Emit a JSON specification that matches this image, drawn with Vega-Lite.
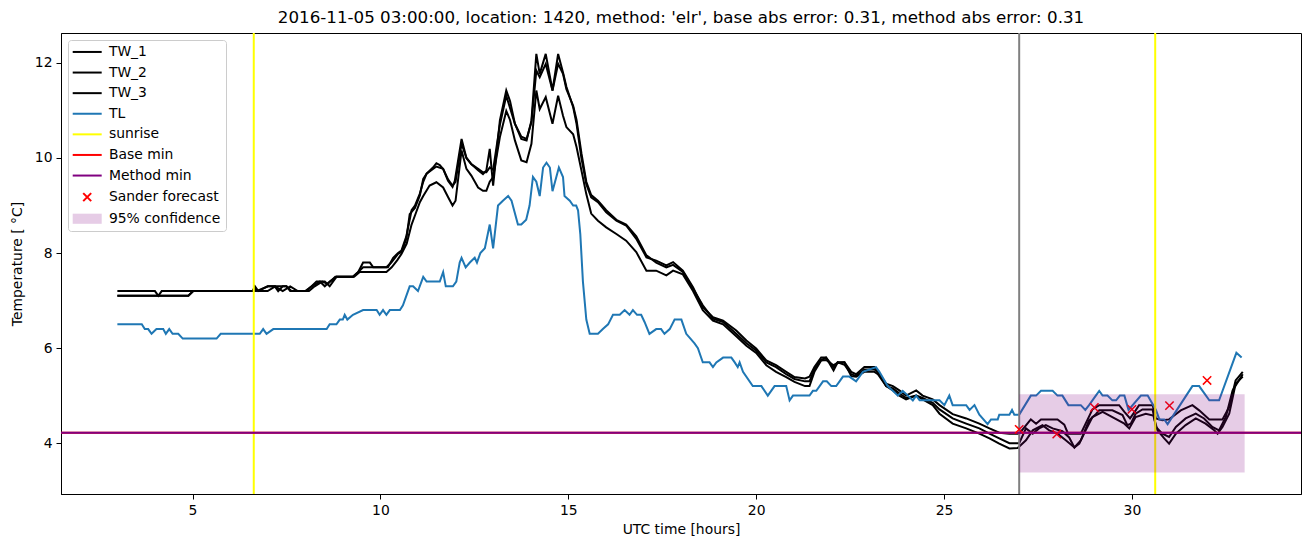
{
"$schema": "https://vega.github.io/schema/vega-lite/v6.json",
"autosize": "none",
"width": 1240,
"height": 461,
"padding": {"left": 61, "top": 33, "right": 9, "bottom": 53},
"background": "white",
"title": {"text": "2016-11-05 03:00:00, location: 1420, method: 'elr', base abs error: 0.31, method abs error: 0.31", "font": "DejaVu Sans", "fontSize": 16.7, "fontWeight": "normal", "color": "black", "anchor": "middle", "offset": 5},
"datasets": {
"lines": [
{"k":"TW_1","t":3,"v":7.2},{"k":"TW_1","t":4.0,"v":7.2},{"k":"TW_1","t":4.09,"v":7.1},{"k":"TW_1","t":4.18,"v":7.2},{"k":"TW_1","t":6.6,"v":7.2},{"k":"TW_1","t":6.66,"v":7.3},{"k":"TW_1","t":6.75,"v":7.2},{"k":"TW_1","t":7.0,"v":7.3},{"k":"TW_1","t":7.5,"v":7.3},{"k":"TW_1","t":7.6,"v":7.2},{"k":"TW_1","t":8.0,"v":7.2},{"k":"TW_1","t":8.17,"v":7.3},{"k":"TW_1","t":8.39,"v":7.4},{"k":"TW_1","t":8.52,"v":7.3},{"k":"TW_1","t":8.65,"v":7.4},{"k":"TW_1","t":8.83,"v":7.5},{"k":"TW_1","t":9.27,"v":7.5},{"k":"TW_1","t":9.41,"v":7.6},{"k":"TW_1","t":9.54,"v":7.8},{"k":"TW_1","t":9.72,"v":7.8},{"k":"TW_1","t":9.81,"v":7.7},{"k":"TW_1","t":10.2,"v":7.7},{"k":"TW_1","t":10.34,"v":7.9},{"k":"TW_1","t":10.47,"v":8.0},{"k":"TW_1","t":10.56,"v":8.05},{"k":"TW_1","t":10.69,"v":8.35},{"k":"TW_1","t":10.83,"v":8.9},{"k":"TW_1","t":10.92,"v":9.0},{"k":"TW_1","t":11.05,"v":9.25},{"k":"TW_1","t":11.14,"v":9.5},{"k":"TW_1","t":11.23,"v":9.67},{"k":"TW_1","t":11.4,"v":9.8},{"k":"TW_1","t":11.49,"v":9.89},{"k":"TW_1","t":11.58,"v":9.85},{"k":"TW_1","t":11.67,"v":9.77},{"k":"TW_1","t":11.8,"v":9.52},{"k":"TW_1","t":11.92,"v":9.39},{"k":"TW_1","t":11.98,"v":9.52},{"k":"TW_1","t":12.16,"v":10.4},{"k":"TW_1","t":12.29,"v":10.0},{"k":"TW_1","t":12.42,"v":9.87},{"k":"TW_1","t":12.6,"v":9.74},{"k":"TW_1","t":12.73,"v":9.66},{"k":"TW_1","t":12.82,"v":9.74},{"k":"TW_1","t":12.91,"v":10.19},{"k":"TW_1","t":13.0,"v":9.42},{"k":"TW_1","t":13.18,"v":10.79},{"k":"TW_1","t":13.35,"v":11.42},{"k":"TW_1","t":13.45,"v":11.2},{"k":"TW_1","t":13.58,"v":10.72},{"k":"TW_1","t":13.75,"v":10.4},{"k":"TW_1","t":13.89,"v":10.37},{"k":"TW_1","t":14.02,"v":10.79},{"k":"TW_1","t":14.15,"v":12.19},{"k":"TW_1","t":14.24,"v":11.77},{"k":"TW_1","t":14.4,"v":12.19},{"k":"TW_1","t":14.58,"v":11.42},{"k":"TW_1","t":14.73,"v":12.19},{"k":"TW_1","t":14.86,"v":11.8},{"k":"TW_1","t":14.95,"v":11.5},{"k":"TW_1","t":15.13,"v":11.07},{"k":"TW_1","t":15.22,"v":10.72},{"k":"TW_1","t":15.35,"v":10.0},{"k":"TW_1","t":15.48,"v":9.45},{"k":"TW_1","t":15.61,"v":9.17},{"k":"TW_1","t":15.79,"v":9.07},{"k":"TW_1","t":16.01,"v":8.86},{"k":"TW_1","t":16.28,"v":8.68},{"k":"TW_1","t":16.54,"v":8.58},{"k":"TW_1","t":16.81,"v":8.3},{"k":"TW_1","t":17.08,"v":7.91},{"k":"TW_1","t":17.34,"v":7.84},{"k":"TW_1","t":17.61,"v":7.74},{"k":"TW_1","t":17.79,"v":7.81},{"k":"TW_1","t":18.05,"v":7.63},{"k":"TW_1","t":18.32,"v":7.28},{"k":"TW_1","t":18.58,"v":6.86},{"k":"TW_1","t":18.85,"v":6.65},{"k":"TW_1","t":19.12,"v":6.58},{"k":"TW_1","t":19.47,"v":6.37},{"k":"TW_1","t":19.74,"v":6.16},{"k":"TW_1","t":20.0,"v":5.99},{"k":"TW_1","t":20.27,"v":5.74},{"k":"TW_1","t":20.53,"v":5.64},{"k":"TW_1","t":20.8,"v":5.5},{"k":"TW_1","t":21.02,"v":5.39},{"k":"TW_1","t":21.3,"v":5.36},{"k":"TW_1","t":21.42,"v":5.4},{"k":"TW_1","t":21.55,"v":5.6},{"k":"TW_1","t":21.73,"v":5.8},{"k":"TW_1","t":21.86,"v":5.8},{"k":"TW_1","t":22.06,"v":5.6},{"k":"TW_1","t":22.17,"v":5.7},{"k":"TW_1","t":22.35,"v":5.7},{"k":"TW_1","t":22.53,"v":5.5},{"k":"TW_1","t":22.66,"v":5.45},{"k":"TW_1","t":22.88,"v":5.6},{"k":"TW_1","t":23.15,"v":5.6},{"k":"TW_1","t":23.24,"v":5.5},{"k":"TW_1","t":23.46,"v":5.25},{"k":"TW_1","t":23.64,"v":5.2},{"k":"TW_1","t":23.81,"v":5.11},{"k":"TW_1","t":23.99,"v":5.0},{"k":"TW_1","t":24.26,"v":5.11},{"k":"TW_1","t":24.43,"v":5.0},{"k":"TW_1","t":24.7,"v":4.92},{"k":"TW_1","t":24.88,"v":4.8},{"k":"TW_1","t":25.23,"v":4.61},{"k":"TW_1","t":25.59,"v":4.52},{"k":"TW_1","t":25.94,"v":4.41},{"k":"TW_1","t":26.21,"v":4.31},{"k":"TW_1","t":26.47,"v":4.22},{"k":"TW_1","t":26.74,"v":4.2},{"k":"TW_1","t":27.0,"v":4.2},{"k":"TW_1","t":27.31,"v":4.5},{"k":"TW_1","t":27.45,"v":4.41},{"k":"TW_1","t":27.58,"v":4.5},{"k":"TW_1","t":28.02,"v":4.5},{"k":"TW_1","t":28.2,"v":4.39},{"k":"TW_1","t":28.3,"v":4.2},{"k":"TW_1","t":28.64,"v":4.2},{"k":"TW_1","t":28.95,"v":4.71},{"k":"TW_1","t":29.13,"v":4.8},{"k":"TW_1","t":29.66,"v":4.8},{"k":"TW_1","t":29.8,"v":4.66},{"k":"TW_1","t":29.95,"v":4.52},{"k":"TW_1","t":30.1,"v":4.69},{"k":"TW_1","t":30.19,"v":4.8},{"k":"TW_1","t":30.55,"v":4.8},{"k":"TW_1","t":30.64,"v":4.52},{"k":"TW_1","t":30.81,"v":4.48},{"k":"TW_1","t":30.99,"v":4.5},{"k":"TW_1","t":31.3,"v":4.69},{"k":"TW_1","t":31.61,"v":4.8},{"k":"TW_1","t":31.79,"v":4.69},{"k":"TW_1","t":32.06,"v":4.5},{"k":"TW_1","t":32.41,"v":4.5},{"k":"TW_1","t":32.59,"v":4.76},{"k":"TW_1","t":32.76,"v":5.32},{"k":"TW_1","t":32.95,"v":5.5},
{"k":"TW_2","t":3,"v":7.1},{"k":"TW_2","t":4.89,"v":7.1},{"k":"TW_2","t":5.02,"v":7.2},{"k":"TW_2","t":6.7,"v":7.2},{"k":"TW_2","t":7.01,"v":7.3},{"k":"TW_2","t":7.19,"v":7.3},{"k":"TW_2","t":7.28,"v":7.2},{"k":"TW_2","t":7.4,"v":7.3},{"k":"TW_2","t":7.5,"v":7.3},{"k":"TW_2","t":7.63,"v":7.2},{"k":"TW_2","t":8.03,"v":7.2},{"k":"TW_2","t":8.17,"v":7.3},{"k":"TW_2","t":8.3,"v":7.4},{"k":"TW_2","t":8.52,"v":7.4},{"k":"TW_2","t":8.65,"v":7.3},{"k":"TW_2","t":8.83,"v":7.5},{"k":"TW_2","t":9.27,"v":7.5},{"k":"TW_2","t":9.41,"v":7.6},{"k":"TW_2","t":9.54,"v":7.7},{"k":"TW_2","t":10.16,"v":7.7},{"k":"TW_2","t":10.29,"v":7.8},{"k":"TW_2","t":10.47,"v":7.98},{"k":"TW_2","t":10.56,"v":8.02},{"k":"TW_2","t":10.69,"v":8.3},{"k":"TW_2","t":10.78,"v":8.82},{"k":"TW_2","t":10.92,"v":8.95},{"k":"TW_2","t":11.05,"v":9.21},{"k":"TW_2","t":11.14,"v":9.56},{"k":"TW_2","t":11.23,"v":9.67},{"k":"TW_2","t":11.49,"v":9.82},{"k":"TW_2","t":11.67,"v":9.77},{"k":"TW_2","t":11.8,"v":9.55},{"k":"TW_2","t":11.92,"v":9.42},{"k":"TW_2","t":12.0,"v":9.5},{"k":"TW_2","t":12.16,"v":10.3},{"k":"TW_2","t":12.29,"v":10.0},{"k":"TW_2","t":12.42,"v":9.87},{"k":"TW_2","t":12.6,"v":9.77},{"k":"TW_2","t":12.73,"v":9.7},{"k":"TW_2","t":12.82,"v":9.7},{"k":"TW_2","t":12.91,"v":9.8},{"k":"TW_2","t":13.0,"v":9.75},{"k":"TW_2","t":13.18,"v":10.7},{"k":"TW_2","t":13.35,"v":11.31},{"k":"TW_2","t":13.58,"v":10.72},{"k":"TW_2","t":13.75,"v":10.45},{"k":"TW_2","t":13.89,"v":10.4},{"k":"TW_2","t":14.02,"v":10.75},{"k":"TW_2","t":14.15,"v":11.84},{"k":"TW_2","t":14.24,"v":11.7},{"k":"TW_2","t":14.4,"v":11.98},{"k":"TW_2","t":14.58,"v":11.42},{"k":"TW_2","t":14.73,"v":11.98},{"k":"TW_2","t":14.86,"v":11.77},{"k":"TW_2","t":14.95,"v":11.45},{"k":"TW_2","t":15.13,"v":11.1},{"k":"TW_2","t":15.22,"v":10.8},{"k":"TW_2","t":15.35,"v":10.1},{"k":"TW_2","t":15.48,"v":9.5},{"k":"TW_2","t":15.61,"v":9.22},{"k":"TW_2","t":15.79,"v":9.1},{"k":"TW_2","t":16.01,"v":8.9},{"k":"TW_2","t":16.28,"v":8.7},{"k":"TW_2","t":16.54,"v":8.6},{"k":"TW_2","t":16.81,"v":8.35},{"k":"TW_2","t":17.08,"v":7.95},{"k":"TW_2","t":17.34,"v":7.8},{"k":"TW_2","t":17.61,"v":7.7},{"k":"TW_2","t":17.79,"v":7.75},{"k":"TW_2","t":18.05,"v":7.6},{"k":"TW_2","t":18.32,"v":7.25},{"k":"TW_2","t":18.58,"v":6.9},{"k":"TW_2","t":18.85,"v":6.62},{"k":"TW_2","t":19.12,"v":6.55},{"k":"TW_2","t":19.47,"v":6.3},{"k":"TW_2","t":19.74,"v":6.1},{"k":"TW_2","t":20.0,"v":5.95},{"k":"TW_2","t":20.27,"v":5.7},{"k":"TW_2","t":20.53,"v":5.6},{"k":"TW_2","t":20.8,"v":5.45},{"k":"TW_2","t":21.02,"v":5.35},{"k":"TW_2","t":21.3,"v":5.3},{"k":"TW_2","t":21.42,"v":5.3},{"k":"TW_2","t":21.55,"v":5.55},{"k":"TW_2","t":21.73,"v":5.75},{"k":"TW_2","t":21.86,"v":5.8},{"k":"TW_2","t":22.06,"v":5.53},{"k":"TW_2","t":22.17,"v":5.7},{"k":"TW_2","t":22.35,"v":5.65},{"k":"TW_2","t":22.53,"v":5.45},{"k":"TW_2","t":22.66,"v":5.41},{"k":"TW_2","t":22.88,"v":5.55},{"k":"TW_2","t":23.15,"v":5.55},{"k":"TW_2","t":23.24,"v":5.5},{"k":"TW_2","t":23.46,"v":5.2},{"k":"TW_2","t":23.64,"v":5.15},{"k":"TW_2","t":23.81,"v":5.05},{"k":"TW_2","t":23.99,"v":4.95},{"k":"TW_2","t":24.26,"v":5.0},{"k":"TW_2","t":24.43,"v":4.95},{"k":"TW_2","t":24.7,"v":4.85},{"k":"TW_2","t":24.88,"v":4.71},{"k":"TW_2","t":25.23,"v":4.52},{"k":"TW_2","t":25.59,"v":4.41},{"k":"TW_2","t":25.94,"v":4.31},{"k":"TW_2","t":26.21,"v":4.2},{"k":"TW_2","t":26.47,"v":4.1},{"k":"TW_2","t":26.74,"v":4.0},{"k":"TW_2","t":27.0,"v":4.0},{"k":"TW_2","t":27.18,"v":4.31},{"k":"TW_2","t":27.36,"v":4.2},{"k":"TW_2","t":27.53,"v":4.31},{"k":"TW_2","t":27.71,"v":4.38},{"k":"TW_2","t":27.89,"v":4.31},{"k":"TW_2","t":28.15,"v":4.25},{"k":"TW_2","t":28.33,"v":4.12},{"k":"TW_2","t":28.47,"v":3.91},{"k":"TW_2","t":28.64,"v":4.06},{"k":"TW_2","t":28.86,"v":4.48},{"k":"TW_2","t":29.04,"v":4.61},{"k":"TW_2","t":29.13,"v":4.69},{"k":"TW_2","t":29.48,"v":4.69},{"k":"TW_2","t":29.75,"v":4.59},{"k":"TW_2","t":29.88,"v":4.38},{"k":"TW_2","t":29.97,"v":4.41},{"k":"TW_2","t":30.1,"v":4.62},{"k":"TW_2","t":30.28,"v":4.71},{"k":"TW_2","t":30.55,"v":4.71},{"k":"TW_2","t":30.64,"v":4.34},{"k":"TW_2","t":30.81,"v":4.2},{"k":"TW_2","t":30.99,"v":4.13},{"k":"TW_2","t":31.17,"v":4.34},{"k":"TW_2","t":31.43,"v":4.52},{"k":"TW_2","t":31.7,"v":4.62},{"k":"TW_2","t":31.92,"v":4.52},{"k":"TW_2","t":32.14,"v":4.34},{"k":"TW_2","t":32.32,"v":4.27},{"k":"TW_2","t":32.5,"v":4.55},{"k":"TW_2","t":32.68,"v":5.11},{"k":"TW_2","t":32.95,"v":5.45},
{"k":"TW_3","t":3,"v":7.1},{"k":"TW_3","t":4.89,"v":7.1},{"k":"TW_3","t":5.02,"v":7.2},{"k":"TW_3","t":6.6,"v":7.2},{"k":"TW_3","t":6.66,"v":7.25},{"k":"TW_3","t":6.75,"v":7.2},{"k":"TW_3","t":7.0,"v":7.2},{"k":"TW_3","t":7.2,"v":7.3},{"k":"TW_3","t":7.4,"v":7.2},{"k":"TW_3","t":7.6,"v":7.3},{"k":"TW_3","t":7.8,"v":7.2},{"k":"TW_3","t":8.1,"v":7.2},{"k":"TW_3","t":8.25,"v":7.3},{"k":"TW_3","t":8.45,"v":7.4},{"k":"TW_3","t":8.6,"v":7.35},{"k":"TW_3","t":8.8,"v":7.5},{"k":"TW_3","t":9.3,"v":7.5},{"k":"TW_3","t":9.45,"v":7.6},{"k":"TW_3","t":10.16,"v":7.6},{"k":"TW_3","t":10.3,"v":7.7},{"k":"TW_3","t":10.45,"v":7.85},{"k":"TW_3","t":10.56,"v":7.98},{"k":"TW_3","t":10.7,"v":8.2},{"k":"TW_3","t":10.83,"v":8.6},{"k":"TW_3","t":10.92,"v":8.79},{"k":"TW_3","t":11.05,"v":9.07},{"k":"TW_3","t":11.14,"v":9.2},{"k":"TW_3","t":11.31,"v":9.42},{"k":"TW_3","t":11.49,"v":9.49},{"k":"TW_3","t":11.67,"v":9.38},{"k":"TW_3","t":11.8,"v":9.18},{"k":"TW_3","t":11.92,"v":9.0},{"k":"TW_3","t":12.0,"v":9.1},{"k":"TW_3","t":12.16,"v":10.16},{"k":"TW_3","t":12.29,"v":9.77},{"k":"TW_3","t":12.42,"v":9.63},{"k":"TW_3","t":12.6,"v":9.38},{"k":"TW_3","t":12.73,"v":9.31},{"k":"TW_3","t":12.82,"v":9.31},{"k":"TW_3","t":12.91,"v":9.5},{"k":"TW_3","t":13.0,"v":9.6},{"k":"TW_3","t":13.18,"v":10.44},{"k":"TW_3","t":13.35,"v":10.99},{"k":"TW_3","t":13.45,"v":10.8},{"k":"TW_3","t":13.58,"v":10.37},{"k":"TW_3","t":13.75,"v":9.95},{"k":"TW_3","t":13.89,"v":9.91},{"k":"TW_3","t":14.02,"v":10.3},{"k":"TW_3","t":14.15,"v":11.42},{"k":"TW_3","t":14.24,"v":11.03},{"k":"TW_3","t":14.4,"v":11.28},{"k":"TW_3","t":14.58,"v":10.72},{"k":"TW_3","t":14.73,"v":11.31},{"k":"TW_3","t":14.86,"v":10.89},{"k":"TW_3","t":14.95,"v":10.65},{"k":"TW_3","t":15.13,"v":10.5},{"k":"TW_3","t":15.22,"v":10.23},{"k":"TW_3","t":15.35,"v":9.74},{"k":"TW_3","t":15.48,"v":9.24},{"k":"TW_3","t":15.61,"v":8.83},{"k":"TW_3","t":15.79,"v":8.68},{"k":"TW_3","t":16.01,"v":8.54},{"k":"TW_3","t":16.28,"v":8.4},{"k":"TW_3","t":16.54,"v":8.26},{"k":"TW_3","t":16.81,"v":8.02},{"k":"TW_3","t":17.08,"v":7.63},{"k":"TW_3","t":17.34,"v":7.63},{"k":"TW_3","t":17.61,"v":7.53},{"k":"TW_3","t":17.79,"v":7.63},{"k":"TW_3","t":18.05,"v":7.55},{"k":"TW_3","t":18.32,"v":7.2},{"k":"TW_3","t":18.58,"v":6.8},{"k":"TW_3","t":18.85,"v":6.58},{"k":"TW_3","t":19.12,"v":6.5},{"k":"TW_3","t":19.47,"v":6.25},{"k":"TW_3","t":19.74,"v":6.05},{"k":"TW_3","t":20.0,"v":5.9},{"k":"TW_3","t":20.27,"v":5.64},{"k":"TW_3","t":20.53,"v":5.5},{"k":"TW_3","t":20.8,"v":5.39},{"k":"TW_3","t":21.02,"v":5.29},{"k":"TW_3","t":21.3,"v":5.2},{"k":"TW_3","t":21.42,"v":5.2},{"k":"TW_3","t":21.55,"v":5.5},{"k":"TW_3","t":21.73,"v":5.74},{"k":"TW_3","t":21.86,"v":5.75},{"k":"TW_3","t":22.06,"v":5.64},{"k":"TW_3","t":22.17,"v":5.69},{"k":"TW_3","t":22.35,"v":5.7},{"k":"TW_3","t":22.53,"v":5.41},{"k":"TW_3","t":22.66,"v":5.4},{"k":"TW_3","t":22.88,"v":5.5},{"k":"TW_3","t":23.15,"v":5.5},{"k":"TW_3","t":23.24,"v":5.45},{"k":"TW_3","t":23.46,"v":5.2},{"k":"TW_3","t":23.64,"v":5.11},{"k":"TW_3","t":23.81,"v":5.0},{"k":"TW_3","t":23.99,"v":4.92},{"k":"TW_3","t":24.26,"v":5.0},{"k":"TW_3","t":24.43,"v":4.92},{"k":"TW_3","t":24.7,"v":4.8},{"k":"TW_3","t":24.88,"v":4.62},{"k":"TW_3","t":25.23,"v":4.41},{"k":"TW_3","t":25.59,"v":4.31},{"k":"TW_3","t":25.94,"v":4.2},{"k":"TW_3","t":26.21,"v":4.1},{"k":"TW_3","t":26.47,"v":3.99},{"k":"TW_3","t":26.74,"v":3.89},{"k":"TW_3","t":26.96,"v":3.9},{"k":"TW_3","t":27.18,"v":4.06},{"k":"TW_3","t":27.36,"v":4.27},{"k":"TW_3","t":27.62,"v":4.38},{"k":"TW_3","t":27.8,"v":4.27},{"k":"TW_3","t":28.02,"v":4.2},{"k":"TW_3","t":28.24,"v":4.06},{"k":"TW_3","t":28.47,"v":3.91},{"k":"TW_3","t":28.6,"v":3.99},{"k":"TW_3","t":28.77,"v":4.27},{"k":"TW_3","t":28.95,"v":4.55},{"k":"TW_3","t":29.22,"v":4.66},{"k":"TW_3","t":29.48,"v":4.55},{"k":"TW_3","t":29.8,"v":4.41},{"k":"TW_3","t":29.93,"v":4.31},{"k":"TW_3","t":30.1,"v":4.55},{"k":"TW_3","t":30.37,"v":4.62},{"k":"TW_3","t":30.57,"v":4.58},{"k":"TW_3","t":30.68,"v":4.27},{"k":"TW_3","t":30.86,"v":4.1},{"k":"TW_3","t":30.99,"v":3.99},{"k":"TW_3","t":31.17,"v":4.2},{"k":"TW_3","t":31.43,"v":4.38},{"k":"TW_3","t":31.7,"v":4.52},{"k":"TW_3","t":31.96,"v":4.41},{"k":"TW_3","t":32.19,"v":4.27},{"k":"TW_3","t":32.28,"v":4.2},{"k":"TW_3","t":32.41,"v":4.34},{"k":"TW_3","t":32.59,"v":4.62},{"k":"TW_3","t":32.76,"v":5.25},{"k":"TW_3","t":32.95,"v":5.4},
{"k":"TL","t":3,"v":6.5},{"k":"TL","t":3.65,"v":6.5},{"k":"TL","t":3.73,"v":6.4},{"k":"TL","t":3.82,"v":6.4},{"k":"TL","t":3.91,"v":6.3},{"k":"TL","t":4.04,"v":6.4},{"k":"TL","t":4.22,"v":6.4},{"k":"TL","t":4.29,"v":6.3},{"k":"TL","t":4.38,"v":6.4},{"k":"TL","t":4.47,"v":6.3},{"k":"TL","t":4.62,"v":6.3},{"k":"TL","t":4.74,"v":6.2},{"k":"TL","t":5.64,"v":6.2},{"k":"TL","t":5.75,"v":6.3},{"k":"TL","t":6.79,"v":6.3},{"k":"TL","t":6.88,"v":6.4},{"k":"TL","t":6.97,"v":6.3},{"k":"TL","t":7.15,"v":6.4},{"k":"TL","t":8.57,"v":6.4},{"k":"TL","t":8.65,"v":6.5},{"k":"TL","t":8.83,"v":6.5},{"k":"TL","t":8.92,"v":6.6},{"k":"TL","t":9.0,"v":6.6},{"k":"TL","t":9.05,"v":6.7},{"k":"TL","t":9.12,"v":6.6},{"k":"TL","t":9.27,"v":6.7},{"k":"TL","t":9.54,"v":6.8},{"k":"TL","t":9.9,"v":6.8},{"k":"TL","t":9.98,"v":6.7},{"k":"TL","t":10.07,"v":6.8},{"k":"TL","t":10.16,"v":6.7},{"k":"TL","t":10.25,"v":6.8},{"k":"TL","t":10.52,"v":6.8},{"k":"TL","t":10.6,"v":6.9},{"k":"TL","t":10.78,"v":7.3},{"k":"TL","t":10.87,"v":7.3},{"k":"TL","t":11.0,"v":7.2},{"k":"TL","t":11.14,"v":7.5},{"k":"TL","t":11.23,"v":7.4},{"k":"TL","t":11.58,"v":7.4},{"k":"TL","t":11.67,"v":7.6},{"k":"TL","t":11.74,"v":7.3},{"k":"TL","t":11.93,"v":7.3},{"k":"TL","t":12.02,"v":7.4},{"k":"TL","t":12.11,"v":7.8},{"k":"TL","t":12.16,"v":7.9},{"k":"TL","t":12.27,"v":7.7},{"k":"TL","t":12.38,"v":7.8},{"k":"TL","t":12.51,"v":7.9},{"k":"TL","t":12.57,"v":7.8},{"k":"TL","t":12.66,"v":8.0},{"k":"TL","t":12.78,"v":8.1},{"k":"TL","t":12.91,"v":8.6},{"k":"TL","t":13.0,"v":8.1},{"k":"TL","t":13.13,"v":9.0},{"k":"TL","t":13.26,"v":9.1},{"k":"TL","t":13.4,"v":9.2},{"k":"TL","t":13.49,"v":9.1},{"k":"TL","t":13.66,"v":8.6},{"k":"TL","t":13.75,"v":8.6},{"k":"TL","t":13.88,"v":8.7},{"k":"TL","t":13.97,"v":9.0},{"k":"TL","t":14.06,"v":9.6},{"k":"TL","t":14.15,"v":9.5},{"k":"TL","t":14.24,"v":9.2},{"k":"TL","t":14.33,"v":9.8},{"k":"TL","t":14.42,"v":9.9},{"k":"TL","t":14.51,"v":9.8},{"k":"TL","t":14.58,"v":9.3},{"k":"TL","t":14.75,"v":9.8},{"k":"TL","t":14.86,"v":9.6},{"k":"TL","t":14.9,"v":9.2},{"k":"TL","t":15.04,"v":9.1},{"k":"TL","t":15.13,"v":9.0},{"k":"TL","t":15.21,"v":9.0},{"k":"TL","t":15.26,"v":8.9},{"k":"TL","t":15.32,"v":8.4},{"k":"TL","t":15.39,"v":7.4},{"k":"TL","t":15.48,"v":6.6},{"k":"TL","t":15.57,"v":6.3},{"k":"TL","t":15.79,"v":6.3},{"k":"TL","t":15.92,"v":6.4},{"k":"TL","t":16.06,"v":6.5},{"k":"TL","t":16.19,"v":6.7},{"k":"TL","t":16.37,"v":6.7},{"k":"TL","t":16.5,"v":6.8},{"k":"TL","t":16.63,"v":6.7},{"k":"TL","t":16.72,"v":6.8},{"k":"TL","t":16.83,"v":6.7},{"k":"TL","t":16.94,"v":6.7},{"k":"TL","t":17.03,"v":6.55},{"k":"TL","t":17.16,"v":6.3},{"k":"TL","t":17.34,"v":6.4},{"k":"TL","t":17.47,"v":6.4},{"k":"TL","t":17.56,"v":6.3},{"k":"TL","t":17.7,"v":6.4},{"k":"TL","t":17.83,"v":6.6},{"k":"TL","t":18.01,"v":6.6},{"k":"TL","t":18.14,"v":6.3},{"k":"TL","t":18.36,"v":6.1},{"k":"TL","t":18.45,"v":6.0},{"k":"TL","t":18.58,"v":5.7},{"k":"TL","t":18.76,"v":5.7},{"k":"TL","t":18.85,"v":5.6},{"k":"TL","t":18.94,"v":5.7},{"k":"TL","t":19.12,"v":5.8},{"k":"TL","t":19.34,"v":5.8},{"k":"TL","t":19.43,"v":5.7},{"k":"TL","t":19.51,"v":5.6},{"k":"TL","t":19.56,"v":5.7},{"k":"TL","t":19.65,"v":5.5},{"k":"TL","t":19.91,"v":5.2},{"k":"TL","t":20.14,"v":5.2},{"k":"TL","t":20.31,"v":5.0},{"k":"TL","t":20.49,"v":5.2},{"k":"TL","t":20.8,"v":5.2},{"k":"TL","t":20.89,"v":4.9},{"k":"TL","t":20.98,"v":5.0},{"k":"TL","t":21.42,"v":5.0},{"k":"TL","t":21.51,"v":5.1},{"k":"TL","t":21.6,"v":5.1},{"k":"TL","t":21.78,"v":5.3},{"k":"TL","t":21.88,"v":5.3},{"k":"TL","t":22.0,"v":5.2},{"k":"TL","t":22.13,"v":5.2},{"k":"TL","t":22.22,"v":5.3},{"k":"TL","t":22.31,"v":5.4},{"k":"TL","t":22.48,"v":5.4},{"k":"TL","t":22.66,"v":5.3},{"k":"TL","t":22.84,"v":5.5},{"k":"TL","t":23.19,"v":5.6},{"k":"TL","t":23.28,"v":5.5},{"k":"TL","t":23.5,"v":5.2},{"k":"TL","t":23.64,"v":5.1},{"k":"TL","t":23.77,"v":5.0},{"k":"TL","t":23.9,"v":5.1},{"k":"TL","t":24.04,"v":5.0},{"k":"TL","t":24.17,"v":4.9},{"k":"TL","t":24.26,"v":5.0},{"k":"TL","t":24.35,"v":4.9},{"k":"TL","t":24.88,"v":4.9},{"k":"TL","t":25.01,"v":4.8},{"k":"TL","t":25.14,"v":5.0},{"k":"TL","t":25.23,"v":4.8},{"k":"TL","t":25.59,"v":4.8},{"k":"TL","t":25.68,"v":4.7},{"k":"TL","t":25.81,"v":4.8},{"k":"TL","t":25.94,"v":4.6},{"k":"TL","t":26.16,"v":4.4},{"k":"TL","t":26.25,"v":4.5},{"k":"TL","t":26.43,"v":4.5},{"k":"TL","t":26.47,"v":4.6},{"k":"TL","t":26.74,"v":4.6},{"k":"TL","t":26.81,"v":4.7},{"k":"TL","t":26.87,"v":4.6},{"k":"TL","t":27.0,"v":4.6},{"k":"TL","t":27.31,"v":5.0},{"k":"TL","t":27.45,"v":5.0},{"k":"TL","t":27.58,"v":5.1},{"k":"TL","t":27.89,"v":5.1},{"k":"TL","t":28.02,"v":5.0},{"k":"TL","t":28.15,"v":5.0},{"k":"TL","t":28.31,"v":4.8},{"k":"TL","t":28.64,"v":4.8},{"k":"TL","t":28.76,"v":4.7},{"k":"TL","t":28.86,"v":4.8},{"k":"TL","t":29.04,"v":5.0},{"k":"TL","t":29.13,"v":5.1},{"k":"TL","t":29.22,"v":5.0},{"k":"TL","t":29.35,"v":5.0},{"k":"TL","t":29.48,"v":4.9},{"k":"TL","t":29.58,"v":4.9},{"k":"TL","t":29.68,"v":5.0},{"k":"TL","t":29.8,"v":5.0},{"k":"TL","t":29.91,"v":4.7},{"k":"TL","t":30.24,"v":5.0},{"k":"TL","t":30.42,"v":5.0},{"k":"TL","t":30.64,"v":4.7},{"k":"TL","t":30.73,"v":4.5},{"k":"TL","t":30.86,"v":4.5},{"k":"TL","t":30.95,"v":4.4},{"k":"TL","t":31.61,"v":5.2},{"k":"TL","t":31.79,"v":5.2},{"k":"TL","t":32.06,"v":4.9},{"k":"TL","t":32.32,"v":4.9},{"k":"TL","t":32.78,"v":5.9},{"k":"TL","t":32.92,"v":5.8}
],
"sunrise": [{"k":"sunrise","t":6.63},{"k":"sunrise","t":30.62}],
"now": [{"t":27.0}],
"mins": [{"k":"Base min","v":4.22},{"k":"Method min","v":4.22}],
"sander": [{"k":"Sander forecast","t":27,"v":4.29},{"k":"Sander forecast","t":28,"v":4.19},{"k":"Sander forecast","t":29,"v":4.75},{"k":"Sander forecast","t":30,"v":4.71},{"k":"Sander forecast","t":31,"v":4.79},{"k":"Sander forecast","t":32,"v":5.32}],
"conf": [{"k":"95% confidence","t":27,"t2":33,"v":3.38,"v2":5.03}]
},
"encoding": {
"x": {"field":"t","type":"quantitative","scale":{"domain":[1.5,34.5],"nice":false,"zero":false},"axis":{"title":"UTC time [hours]","values":[5,10,15,20,25,30],"format":"d","titlePadding":6}},
"y": {"field":"v","type":"quantitative","scale":{"domain":[2.93,12.63],"nice":false,"zero":false},"axis":{"title":"Temperature [ °C]","values":[4,6,8,10,12],"format":"d","titlePadding":10}}
},
"layer": [
{"data":{"name":"lines"},"mark":{"type":"line","strokeWidth":2},
 "encoding":{"color":{"field":"k","type":"nominal","sort":null,
  "scale":{"domain":["TW_1","TW_2","TW_3","TL","sunrise","Base min","Method min","Sander forecast","95% confidence"],"range":["black","black","black","#1f77b4","yellow","red","purple","red","#800080"]},
  "legend":{"title":null,"orient":"top-left","offset":7,
   "encode":{"symbols":{"update":{
     "shape":{"signal":"datum.value === 'Sander forecast' ? 'M0.45,-0.55L1.55,0.55M0.45,0.55L1.55,-0.55' : datum.value === '95% confidence' ? 'M-1,-0.7H3V0.7H-1Z' : 'M-1,0H3'"},
     "fill":{"signal":"datum.value === '95% confidence' ? '#e2cce4' : 'transparent'"},
     "fillOpacity":{"signal":"datum.value === '95% confidence' ? 0.2 : 0"},
     "stroke":{"signal":"datum.value === '95% confidence' ? 'transparent' : scale('color', datum.value)"},
     "strokeWidth":{"signal":"datum.value === '95% confidence' ? 0 : 2"},
     "opacity":{"value":1}
   }}}}}}},
{"data":{"name":"sunrise"},"mark":{"type":"rule","strokeWidth":2},"encoding":{"y":{"value":0},"y2":{"value":461},"color":{"field":"k","type":"nominal"}}},
{"data":{"name":"now"},"mark":{"type":"rule","strokeWidth":2,"color":"gray"},"encoding":{"y":{"value":0},"y2":{"value":461}}},
{"data":{"name":"mins"},"mark":{"type":"rule","strokeWidth":2},"encoding":{"x":{"value":0},"x2":{"value":1240},"color":{"field":"k","type":"nominal"}}},
{"data":{"name":"sander"},"mark":{"type":"point","shape":"M-1,-1L1,1M-1,1L1,-1","size":70,"filled":false,"strokeWidth":1.5,"opacity":1},"encoding":{"color":{"field":"k","type":"nominal"}}},
{"data":{"name":"conf"},"mark":{"type":"rect","opacity":0.2},"encoding":{"x2":{"field":"t2"},"y2":{"field":"v2"},"color":{"field":"k","type":"nominal"}}}
],
"config": {
 "font": "DejaVu Sans",
 "view": {"stroke": "black", "strokeWidth": 1},
 "axis": {"domainColor":"black","tickColor":"black","labelColor":"black","titleColor":"black","labelFont":"DejaVu Sans","titleFont":"DejaVu Sans","labelFontSize":13.9,"titleFontSize":13.9,"titleFontWeight":"normal","grid":false,"tickSize":5,"labelPadding":4,"domainWidth":1,"tickWidth":1},
 "legend": {"labelFont":"DejaVu Sans","labelFontSize":13.9,"labelColor":"black","strokeColor":"#cccccc","fillColor":"white","cornerRadius":3,"padding":5,"symbolSize":210,"rowPadding":5.6,"labelOffset":22,"symbolStrokeWidth":2}
}
}
